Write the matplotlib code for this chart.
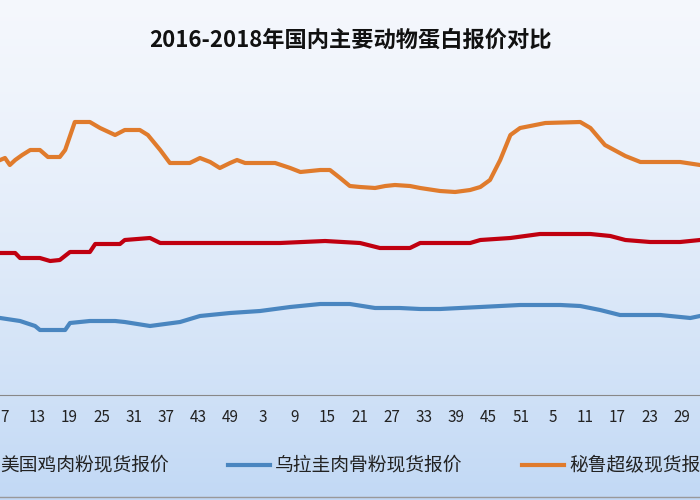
import numpy as np
import matplotlib.pyplot as plt
from matplotlib.lines import Line2D

plt.rcParams['font.family'] = ['Noto Sans CJK SC', 'DejaVu Sans']

# week index 0 = 2016 week 7 ; values in yuan/ton (estimated)
orange_x = [-0.9, 0, 0.9, 1.9, 3.2, 4.7, 6.5, 8.0, 10.2, 11.2, 13.0, 15.8, 17.7, 20.5, 22.3, 25.1, 26.6, 28.9, 30.7, 34.4, 36.3, 38.2, 40.0, 41.9, 43.2, 44.7, 50.3, 53.1, 55.0, 58.7, 60.5, 62.4, 64.2, 66.1, 68.9, 70.8, 72.6, 75.4, 77.3, 81.0, 83.8, 86.6, 88.5, 90.3, 92.2, 94.1, 95.9, 97.8, 100.6, 107.1, 109.0, 111.7, 115.5, 118.3, 122.0, 125.7, 129.4]
orange_y = [9400, 9480, 9200, 9400, 9600, 9800, 9800, 9520, 9520, 9800, 10920, 10920, 10680, 10400, 10600, 10600, 10400, 9800, 9280, 9280, 9480, 9320, 9080, 9280, 9400, 9280, 9280, 9080, 8920, 9000, 9000, 8680, 8360, 8320, 8280, 8360, 8400, 8360, 8280, 8160, 8120, 8200, 8320, 8600, 9400, 10400, 10680, 10760, 10880, 10920, 10680, 10000, 9560, 9320, 9320, 9320, 9200]
red_x = [-0.9, 1.9, 2.8, 6.5, 8.4, 10.2, 12.1, 15.8, 16.8, 21.4, 22.3, 27.0, 28.9, 51.2, 59.6, 66.1, 69.8, 75.4, 77.3, 86.6, 88.5, 94.1, 99.6, 109.0, 112.7, 115.5, 120.1, 125.7, 129.4]
red_y = [5680, 5680, 5480, 5480, 5360, 5400, 5720, 5720, 6040, 6040, 6200, 6280, 6080, 6080, 6160, 6080, 5880, 5880, 6080, 6080, 6200, 6280, 6440, 6440, 6360, 6200, 6120, 6120, 6200]
blue_x = [-0.9, 2.8, 5.6, 6.5, 11.2, 12.1, 15.8, 20.5, 22.3, 27.0, 32.6, 36.3, 41.9, 47.5, 53.1, 58.7, 64.2, 68.9, 73.5, 77.3, 81.0, 88.5, 95.9, 103.4, 107.1, 110.8, 114.5, 122.0, 127.6, 129.4]
blue_y = [3080, 2960, 2760, 2600, 2600, 2880, 2960, 2960, 2920, 2760, 2920, 3160, 3280, 3360, 3520, 3640, 3640, 3480, 3480, 3440, 3440, 3520, 3600, 3600, 3560, 3400, 3200, 3200, 3080, 3160]

tick_pos = list(range(0, 127, 6))
tick_labels = ['7', '13', '19', '25', '31', '37', '43', '49', '3', '9', '15', '21',
               '27', '33', '39', '45', '51', '5', '11', '17', '23', '29']

fig = plt.figure(figsize=(7, 5), dpi=100)
bg = fig.add_axes([0, 0, 1, 1], zorder=-10)
grad = np.linspace(0, 1, 256).reshape(-1, 1)
top = np.array([0.96, 0.97, 0.99])
bot = np.array([0.76, 0.85, 0.96])
img = top + (bot - top) * grad[:, :, None] ** 1.3
bg.imshow(img, aspect='auto', extent=[0, 1, 0, 1])
bg.axis('off')

ax = fig.add_axes([0, 0.21, 1, 0.73])
ax.patch.set_alpha(0)
ax.plot(orange_x, orange_y, color='#e07b2c', lw=3)
ax.plot(red_x, red_y, color='#c00010', lw=3)
ax.plot(blue_x, blue_y, color='#4a86c0', lw=3)
ax.set_xlim(-0.93, 129.4)
ax.set_ylim(0, 14600)
ax.set_yticks([])
ax.set_xticks(tick_pos)
ax.set_xticklabels(tick_labels, fontsize=11, color='#222222')
ax.tick_params(axis='x', length=0, pad=10)
for s in ['top', 'left', 'right']:
    ax.spines[s].set_visible(False)
ax.spines['bottom'].set_color('#888888')

fig.text(0.5, 0.92, '2016-2018年国内主要动物蛋白报价对比', ha='center', va='center',
         fontsize=16, fontweight='bold', color='#111111')

ly = 1 - 465 / 500
fig.text(0.0, ly, '美国鸡肉粉现货报价', fontsize=13.5, va='center', color='#222222')
fig.add_artist(Line2D([0.326, 0.386], [ly, ly], color='#4a86c0', lw=3))
fig.text(0.393, ly, '乌拉圭肉骨粉现货报价', fontsize=13.5, va='center', color='#222222')
fig.add_artist(Line2D([0.746, 0.806], [ly, ly], color='#e07b2c', lw=3))
fig.text(0.813, ly, '秘鲁超级现货报价', fontsize=13.5, va='center', color='#222222')
fig.add_artist(Line2D([0, 1], [0.006, 0.006], color='#999999', lw=1))

fig.savefig('out.png', dpi=100)
